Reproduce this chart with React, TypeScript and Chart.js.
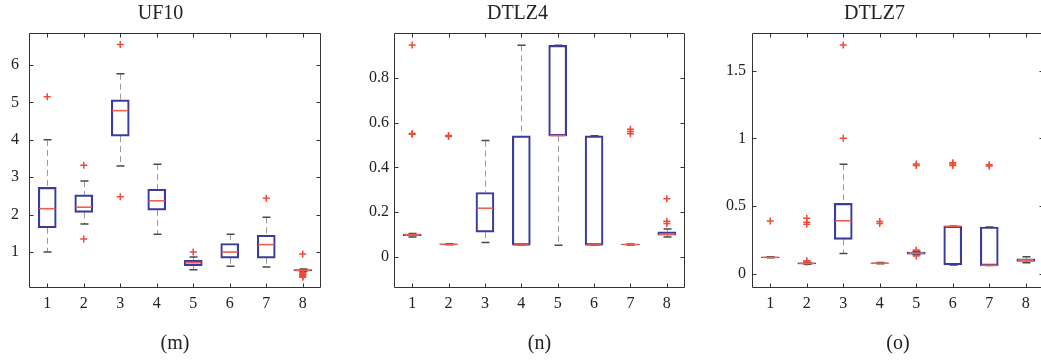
import React, { useEffect, useRef } from "react";
import { Chart, registerables } from "chart.js";

Chart.register(...registerables);

// ---------- data ----------
const CATEGORIES = [1, 2, 3, 4, 5, 6, 7, 8];

// UF10
const UF10_LOW = [1.0, 1.75, 3.3, 1.48, 0.53, 0.62, 0.6, 0.49];
const UF10_Q1 = [1.65, 2.06, 4.1, 2.12, 0.64, 0.84, 0.84, 0.5];
const UF10_MED = [2.16, 2.2, 4.78, 2.37, 0.72, 1.0, 1.2, 0.51];
const UF10_Q3 = [2.73, 2.53, 5.07, 2.68, 0.78, 1.23, 1.45, 0.53];
const UF10_HIGH = [4.0, 2.9, 5.77, 3.35, 0.87, 1.48, 1.93, 0.55];
const UF10_OUTLIERS: [number, number][] = [
  [1, 5.15], [2, 3.32], [2, 1.35], [3, 6.55], [3, 2.48], [5, 1.0], [7, 2.44],
  [8, 0.95], [8, 0.45], [8, 0.42], [8, 0.4], [8, 0.38], [8, 0.35], [8, 0.33],
];
const UF10_TICKS = [1, 2, 3, 4, 5, 6];
const UF10_TICK_LABELS = ["1", "2", "3", "4", "5", "6"];

// DTLZ4
const DTLZ4_LOW = [0.09, 0.055, 0.065, 0.053, 0.053, 0.053, 0.054, 0.09];
const DTLZ4_Q1 = [0.095, 0.056, 0.111, 0.053, 0.541, 0.053, 0.055, 0.098];
const DTLZ4_MED = [0.1, 0.057, 0.218, 0.054, 0.542, 0.054, 0.056, 0.102];
const DTLZ4_Q3 = [0.103, 0.059, 0.288, 0.541, 0.945, 0.541, 0.057, 0.113];
const DTLZ4_HIGH = [0.105, 0.06, 0.52, 0.945, 0.945, 0.541, 0.058, 0.125];
const DTLZ4_OUTLIERS: [number, number][] = [
  [1, 0.946], [1, 0.552], [1, 0.548], [2, 0.543], [2, 0.538],
  [7, 0.55], [7, 0.56], [7, 0.57], [8, 0.26], [8, 0.16], [8, 0.15],
];
const DTLZ4_TICKS = [0, 0.2, 0.4, 0.6, 0.8];
const DTLZ4_TICK_LABELS = ["0", "0.2", "0.4", "0.6", "0.8"];

// DTLZ7
const DTLZ7_LOW = [0.118, 0.07, 0.15, 0.074, 0.14, 0.064, 0.06, 0.08];
const DTLZ7_Q1 = [0.119, 0.072, 0.254, 0.076, 0.145, 0.065, 0.06, 0.09];
const DTLZ7_MED = [0.121, 0.076, 0.391, 0.078, 0.15, 0.35, 0.062, 0.1];
const DTLZ7_Q3 = [0.123, 0.08, 0.52, 0.08, 0.16, 0.352, 0.345, 0.11];
const DTLZ7_HIGH = [0.125, 0.085, 0.808, 0.082, 0.165, 0.352, 0.345, 0.125];
const DTLZ7_OUTLIERS: [number, number][] = [
  [1, 0.39], [2, 0.41], [2, 0.38], [2, 0.365], [2, 0.095], [2, 0.085],
  [3, 1.69], [3, 1.0], [4, 0.385], [4, 0.37], [5, 0.81], [5, 0.8], [5, 0.175], [5, 0.13],
  [6, 0.82], [6, 0.81], [6, 0.8], [7, 0.805], [7, 0.795],
];
const DTLZ7_TICKS = [0, 0.5, 1, 1.5];
const DTLZ7_TICK_LABELS = ["0", "0.5", "1", "1.5"];

// ---------- styling ----------
const FONT = "'Liberation Serif', 'DejaVu Serif', serif";
Chart.defaults.font.family = FONT;
const BOX_COLOR = "#3b3b9e";
const MED_COLOR = "#f0604c";
const OUT_COLOR = "#f24a36";
const WHISKER_COLOR = "#9a9a9a";
const CAP_COLOR = "#4a4a4a";
const FRAME_COLOR = "#333333";
const TEXT_COLOR = "#222222";

const BOX_PX = 18;
const CAP_HALF_PX = 4;
const TICK_LEN = 4;

type Panel = {
  title: string;
  sub: string;
  low: number[];
  q1: number[];
  med: number[];
  q3: number[];
  high: number[];
  outliers: [number, number][];
  ticks: number[];
  tickLabels: string[];
  yMin: number;
  yMax: number;
  left: number;
  yWidth: number;
  plotWidth: number;
  labelPad: number;
};

const PANELS: Panel[] = [
  {
    title: "UF10", sub: "(m)",
    low: UF10_LOW, q1: UF10_Q1, med: UF10_MED, q3: UF10_Q3, high: UF10_HIGH,
    outliers: UF10_OUTLIERS, ticks: UF10_TICKS, tickLabels: UF10_TICK_LABELS,
    yMin: 0.04, yMax: 6.856, left: 0, yWidth: 29, plotWidth: 292, labelPad: 10,
  },
  {
    title: "DTLZ4", sub: "(n)",
    low: DTLZ4_LOW, q1: DTLZ4_Q1, med: DTLZ4_MED, q3: DTLZ4_Q3, high: DTLZ4_HIGH,
    outliers: DTLZ4_OUTLIERS, ticks: DTLZ4_TICKS, tickLabels: DTLZ4_TICK_LABELS,
    yMin: -0.138, yMax: 1.0, left: 350, yWidth: 44, plotWidth: 291, labelPad: 5,
  },
  {
    title: "DTLZ7", sub: "(o)",
    low: DTLZ7_LOW, q1: DTLZ7_Q1, med: DTLZ7_MED, q3: DTLZ7_Q3, high: DTLZ7_HIGH,
    outliers: DTLZ7_OUTLIERS, ticks: DTLZ7_TICKS, tickLabels: DTLZ7_TICK_LABELS,
    yMin: -0.1056, yMax: 1.778, left: 705, yWidth: 47, plotWidth: 292, labelPad: 6,
  },
];

function makeBoxPlugin(p: Panel) {
  return {
    id: "boxExtras",
    beforeDatasetsDraw(chart: any) {
      const { ctx, scales } = chart;
      const xs = scales.x, ys = scales.y;
      ctx.save();
      CATEGORIES.forEach((c, i) => {
        const x = Math.round(xs.getPixelForValue(c)) + 0.5;
        const yHi = ys.getPixelForValue(p.high[i]);
        const yQ3 = ys.getPixelForValue(p.q3[i]);
        const yQ1 = ys.getPixelForValue(p.q1[i]);
        const yLo = ys.getPixelForValue(p.low[i]);
        ctx.strokeStyle = WHISKER_COLOR;
        ctx.lineWidth = 1;
        ctx.setLineDash([6, 4]);
        ctx.beginPath();
        if (yQ3 - yHi > 1) { ctx.moveTo(x, yHi); ctx.lineTo(x, yQ3); }
        if (yLo - yQ1 > 1) { ctx.moveTo(x, yQ1); ctx.lineTo(x, yLo); }
        ctx.stroke();
        ctx.setLineDash([]);
        ctx.strokeStyle = CAP_COLOR;
        ctx.lineWidth = 1.5;
        ctx.beginPath();
        ctx.moveTo(x - CAP_HALF_PX, yHi); ctx.lineTo(x + CAP_HALF_PX, yHi);
        ctx.moveTo(x - CAP_HALF_PX, yLo); ctx.lineTo(x + CAP_HALF_PX, yLo);
        ctx.stroke();
      });
      ctx.restore();
    },
    afterDatasetsDraw(chart: any) {
      const { ctx, scales, chartArea } = chart;
      const xs = scales.x, ys = scales.y;
      ctx.save();
      // medians
      ctx.strokeStyle = MED_COLOR;
      ctx.lineWidth = 1.6;
      CATEGORIES.forEach((c, i) => {
        const x = xs.getPixelForValue(c);
        const y = ys.getPixelForValue(p.med[i]);
        ctx.beginPath();
        ctx.moveTo(x - BOX_PX / 2 + 1, y);
        ctx.lineTo(x + BOX_PX / 2 - 1, y);
        ctx.stroke();
      });
      // frame
      const l = Math.round(chartArea.left) + 0.5;
      const r = Math.round(chartArea.right) - 0.5;
      const t = Math.round(chartArea.top) + 0.5;
      const b = Math.round(chartArea.bottom) - 0.5;
      ctx.strokeStyle = FRAME_COLOR;
      ctx.lineWidth = 1;
      ctx.beginPath();
      ctx.rect(l, t, r - l, b - t);
      // inner ticks
      xs.ticks.forEach((tk: any) => {
        const x = Math.round(xs.getPixelForValue(tk.value)) + 0.5;
        ctx.moveTo(x, b); ctx.lineTo(x, b - TICK_LEN);
        ctx.moveTo(x, t); ctx.lineTo(x, t + TICK_LEN);
      });
      ys.ticks.forEach((tk: any) => {
        const y = Math.round(ys.getPixelForValue(tk.value)) + 0.5;
        ctx.moveTo(l, y); ctx.lineTo(l + TICK_LEN, y);
        ctx.moveTo(r, y); ctx.lineTo(r - TICK_LEN, y);
      });
      ctx.stroke();
      ctx.restore();
    },
  };
}

function BoxPanel({ p }: { p: Panel }) {
  const ref = useRef<HTMLCanvasElement>(null);
  const width = p.yWidth * 2 + p.plotWidth;
  useEffect(() => {
    if (!ref.current) return;
    const chart = new Chart(ref.current, {
      type: "bar",
      data: {
        datasets: [
          {
            type: "bar",
            data: CATEGORIES.map((c, i) => ({ x: c, y: [p.q1[i], p.q3[i]] })) as any,
            backgroundColor: "rgba(255,255,255,0)",
            borderColor: BOX_COLOR,
            borderWidth: 1.5,
            borderSkipped: false,
            barThickness: BOX_PX,
          } as any,
          {
            type: "scatter",
            data: p.outliers.map(([x, y]) => ({ x, y })),
            pointStyle: "cross",
            pointRadius: 3.5,
            borderColor: OUT_COLOR,
            backgroundColor: OUT_COLOR,
            borderWidth: 1.5,
          } as any,
        ],
      },
      options: {
        responsive: false,
        animation: false,
        events: [],
        layout: { padding: { left: 0, right: p.yWidth, top: 0, bottom: 0 } },
        plugins: {
          legend: { display: false },
          tooltip: { enabled: false },
          title: {
            display: true,
            text: p.title,
            color: TEXT_COLOR,
            font: { family: FONT, size: 20, weight: "normal" },
            padding: { top: 2, bottom: 7 },
          },
        },
        scales: {
          x: {
            type: "linear",
            min: 0.5,
            max: 8.5,
            offset: false,
            grid: { display: false, drawTicks: false },
            border: { display: false },
            afterBuildTicks: (s: any) => { s.ticks = CATEGORIES.map((v) => ({ value: v })); },
            afterFit: (s: any) => { s.height = 72; },
            ticks: {
              color: TEXT_COLOR,
              padding: 6,
              font: { family: FONT, size: 16 },
              callback: (v: any) => String(v),
            },
            title: {
              display: true,
              text: p.sub,
              color: TEXT_COLOR,
              font: { family: FONT, size: 20 },
              padding: { top: 0, bottom: 4 },
            },
          },
          y: {
            type: "linear",
            min: p.yMin,
            max: p.yMax,
            grid: { display: false, drawTicks: false },
            border: { display: false },
            afterBuildTicks: (s: any) => { s.ticks = p.ticks.map((v) => ({ value: v })); },
            afterFit: (s: any) => { s.width = p.yWidth; },
            ticks: {
              color: TEXT_COLOR,
              padding: p.labelPad,
              font: { family: FONT, size: 16 },
              callback: (_v: any, i: number) => p.tickLabels[i],
            },
          },
        },
      } as any,
      plugins: [makeBoxPlugin(p)],
    });
    return () => chart.destroy();
  }, [p]);
  return (
    <canvas
      ref={ref}
      width={width}
      height={360}
      style={{ position: "absolute", left: p.left, top: 0, width, height: 360 }}
    />
  );
}

export default function App() {
  return (
    <div
      style={{
        position: "fixed",
        left: 0,
        top: 0,
        width: 1041,
        height: 360,
        overflow: "hidden",
        background: "#ffffff",
      }}
    >
      {PANELS.map((p) => (
        <BoxPanel key={p.title} p={p} />
      ))}
    </div>
  );
}
